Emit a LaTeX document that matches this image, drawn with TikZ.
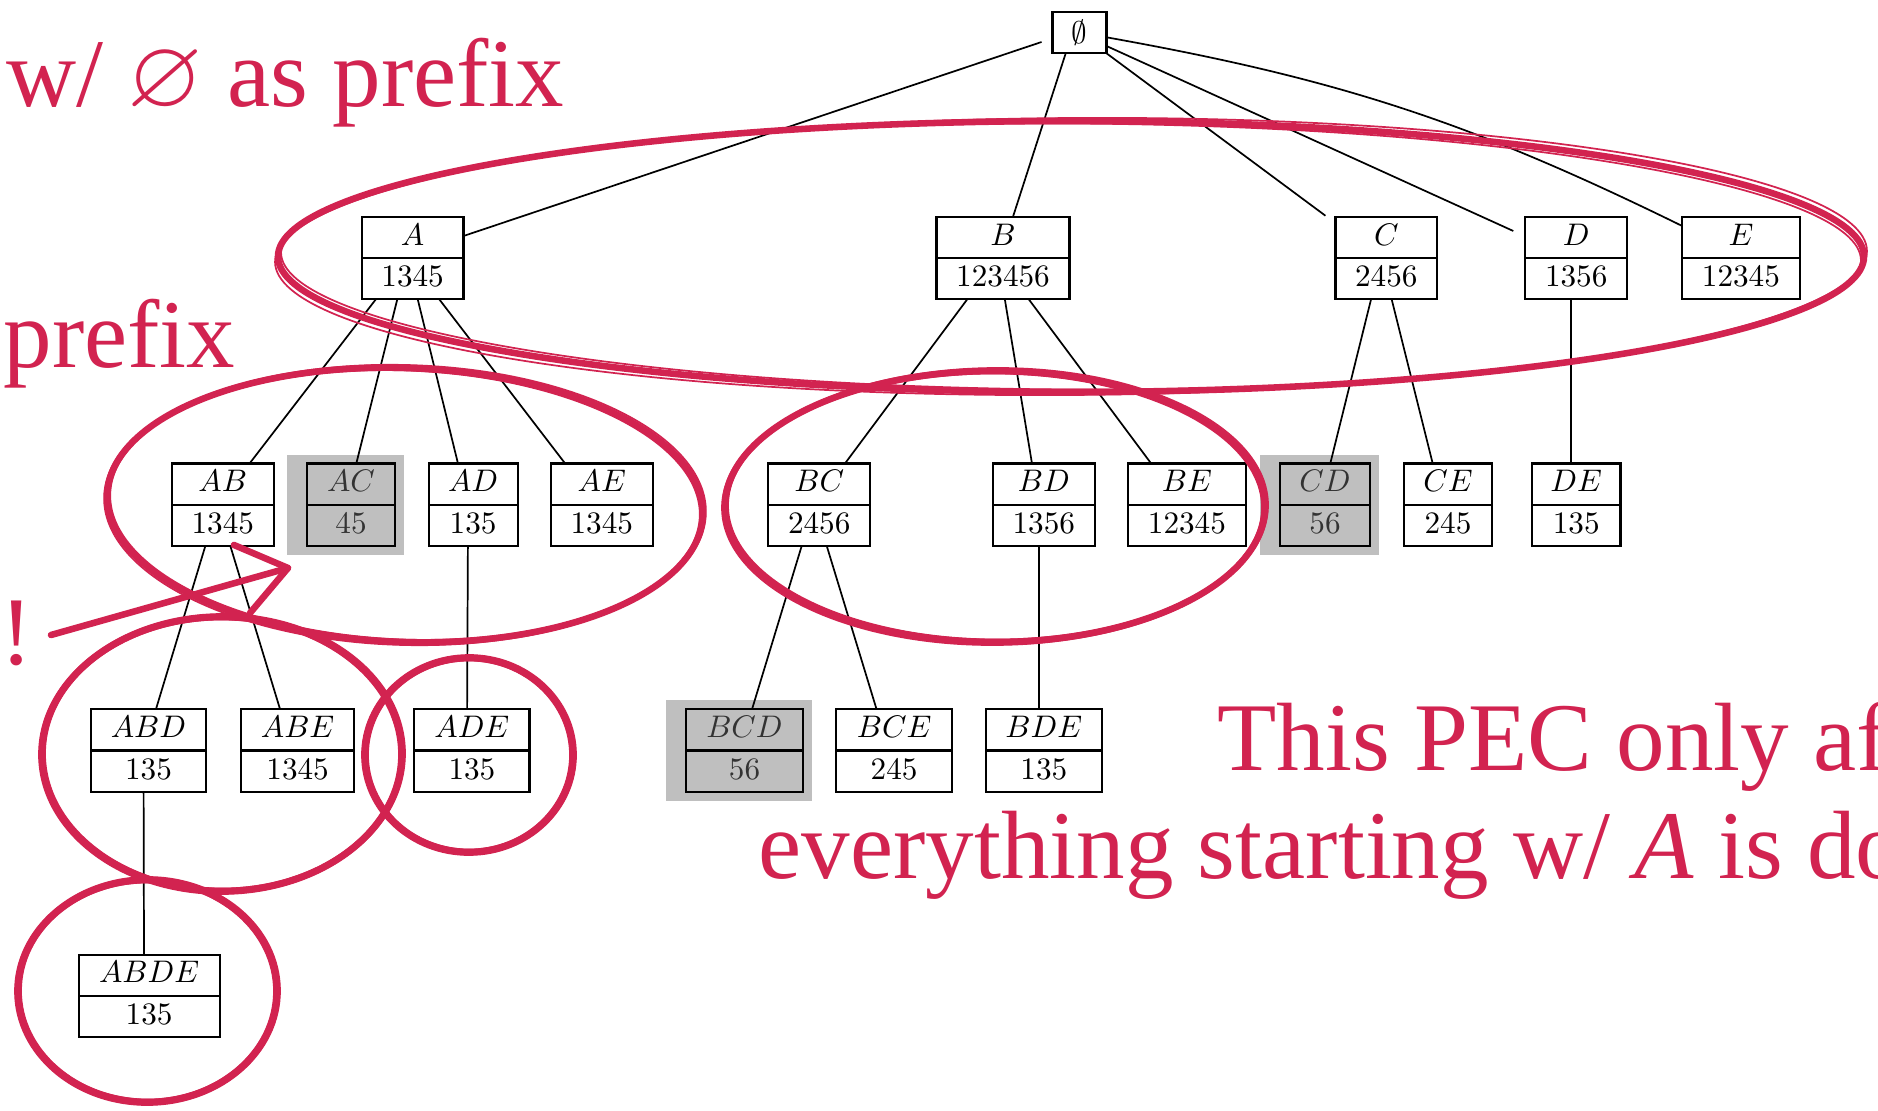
\documentclass[tikz,border=0pt]{standalone}
\usepackage{amssymb}
\usepackage{fontspec}
\newfontfamily\annfont{Liberation Serif}
\usetikzlibrary{calc,backgrounds}
\definecolor{annred}{HTML}{D22350}
\definecolor{shadegray}{gray}{0.75}
\newcommand\pxu{0.3205pt}
\tikzset{
  pbox/.style={draw, fill=white, line width=0.7pt, minimum height=82.6*\pxu, inner sep=0pt, outer sep=0pt},
  rootbox/.style={draw, fill=white, line width=0.7pt, minimum width=54*\pxu, minimum height=41.6*\pxu, inner sep=0pt, outer sep=0pt},
  lbl/.style={anchor=base, inner sep=0pt, font=\fontsize{10}{12}\selectfont},
  edgeline/.style={line width=0.55pt},
  annthick/.style={draw=annred, line width=2.1pt},
  annthin/.style={draw=annred, line width=0.55pt},
  anntext/.style={text=annred, font=\annfont\fontsize{31.1}{37}\selectfont, anchor=base west, inner sep=0pt},
}
\newcommand\pbox[7][]{%
  \node[pbox,#1,minimum width=#5*\pxu] (#2) at (#3,#4) {};
  \draw[line width=0.7pt] (#2.west) -- (#2.east);
  \node[lbl,#1] (#2-l) at ($(#2.center)+(0,-13)$) {$#6$};
  \node[lbl,#1] (#2-n) at ($(#2.center)+(0,28.7)$) {#7};
}
\newcommand\redell[5]{%
  \draw[annthick, rotate around={#5:(#1,#2)}] (#1,#2) ellipse [x radius=#3, y radius=#4];
  \draw[annthin, rotate around={#5+0.4:(#1,#2)}] (#1,#2) ellipse [x radius=#3+3, y radius=#4+3];
  \draw[annthin, rotate around={#5-0.3:(#1,#2)}] (#1,#2) ellipse [x radius=#3-3, y radius=#4-2.5];
}
\begin{document}
\begin{tikzpicture}[x=\pxu, y=-\pxu]
\useasboundingbox (0,0) rectangle (1878,1110);
\clip (0,0) rectangle (1878,1110);

% root
\node[rootbox] (root) at (1079.5,32.5) {$\emptyset$};

% row 1
\pbox{A}{412.6}{258}{101.8}{A}{1345}
\pbox{B}{1003}{258}{133}{B}{123456}
\pbox{C}{1386.3}{258}{101.8}{C}{2456}
\pbox{D}{1576.2}{258}{101.8}{D}{1356}
\pbox{E}{1740.9}{258}{117.4}{E}{12345}

% row 2
\pbox{AB}{222.8}{504.8}{101.8}{AB}{1345}
\pbox[fill=shadegray,text=black!80]{AC}{351}{504.8}{87.4}{AC}{45}
\pbox{AD}{473.1}{504.8}{89}{AD}{135}
\pbox{AE}{601.8}{504.8}{101.8}{AE}{1345}
\pbox{BC}{819.2}{504.8}{101.8}{BC}{2456}
\pbox{BD}{1043.8}{504.8}{101.8}{BD}{1356}
\pbox{BE}{1186.9}{504.8}{117.4}{BE}{12345}
\pbox[fill=shadegray,text=black!80]{CD}{1325}{504.8}{90.7}{CD}{56}
\pbox{CE}{1448}{504.8}{88}{CE}{245}
\pbox{DE}{1576.2}{504.8}{88.5}{DE}{135}

% row 3
\pbox{ABD}{148.5}{750.4}{115}{ABD}{135}
\pbox{ABE}{297.6}{750.4}{113.5}{ABE}{1345}
\pbox{ADE}{471.9}{750.4}{115}{ADE}{135}
\pbox[fill=shadegray,text=black!80]{BCD}{744.5}{750.4}{116.5}{BCD}{56}
\pbox{BCE}{894.1}{750.4}{115.5}{BCE}{245}
\pbox{BDE}{1043.8}{750.4}{116.2}{BDE}{135}

% row 4
\pbox{ABDE}{149.1}{995.9}{141}{ABDE}{135}

% background: shading and tree edges
\begin{scope}[on background layer]
  \fill[white] (0,0) rectangle (1878,1110);
  \foreach \n in {AC,CD,BCD}
    \fill[shadegray] ($(\n.north west)+(-20,-9)$) rectangle ($(\n.south east)+(9,9)$);
  \foreach \parentn/\childn in {A/AB,A/AC,A/AD,A/AE,B/BC,B/BD,B/BE,C/CD,C/CE,D/DE,AB/ABD,AB/ABE,AD/ADE,BC/BCD,BC/BCE,BD/BDE,ABD/ABDE}
    \draw[edgeline] ($(\parentn.center)+(-5,0)$) -- ($(\childn.center)+(-5,0)$);
\end{scope}

% root edges
\draw[edgeline] ($(root.west)+(-11,9.5)$) -- ($(A.east)+(0,-22)$);
\draw[edgeline] ($(root.south)+(-13.8,0)$) -- ($(B.north)+(10,0)$);
\draw[edgeline] (root.south east) -- ($(C.north west)+(-10,-1)$);
\draw[edgeline] ($(root.east)+(0,13.5)$) -- ($(D.west)+(-12,-27)$);
\draw[edgeline] ($(root.east)+(0,4.8)$) to[bend left=8] ($(E.west)+(0,-32)$);

% red annotations
\redell{1071}{256.5}{793}{135.5}{0}
\redell{405}{505}{298}{137}{-2}
\redell{995}{506.5}{270}{135.5}{0}
\redell{222}{754}{180}{137}{0}
\redell{469}{755}{104}{97}{0}
\redell{147.5}{991}{129.5}{111}{0}

\coordinate (arrS) at (51,635);
\coordinate (arrT) at (288,568);
\draw[annthick, line cap=round] (arrS) -- (arrT);
\draw[annthick, line cap=round, line join=round] ($(arrT)+(-54,-23)$) -- (arrT) -- ($(arrT)+(-38,45)$);

\node[anntext] (t1) at (6,107) {w/ $\varnothing$ as prefix};
\node[anntext] (t2) at (3,367) {prefix};
\node[anntext] (t3) at (0,664) {!};
\node[anntext] (t4) at (1217,770) {This PEC only af};
\node[anntext] (t5) at (758,878) {everything starting w/ \textit{A} is do};
\end{tikzpicture}
\end{document}
